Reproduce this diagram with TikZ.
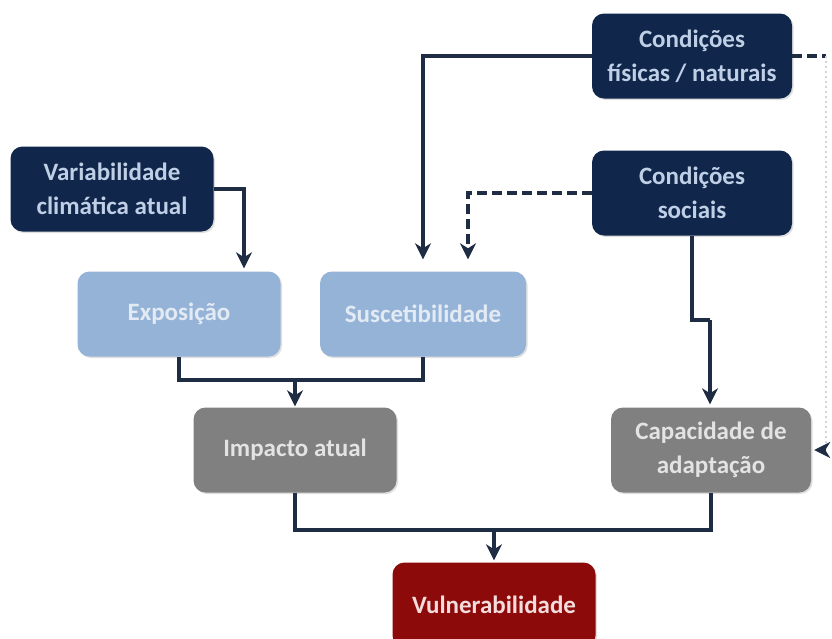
\documentclass[tikz,border=0pt]{standalone}
\usepackage{fontspec}
\setmainfont{Carlito}
\usetikzlibrary{arrows.meta,shadows}
\definecolor{navy}{HTML}{10264A}
\definecolor{navytxt}{HTML}{BFCFE6}
\definecolor{lblue}{HTML}{95B3D7}
\definecolor{lbluetxt}{HTML}{E2EAF4}
\definecolor{gbox}{HTML}{808080}
\definecolor{gtxt}{HTML}{E3E3E3}
\definecolor{rbox}{HTML}{8C0A0A}
\definecolor{rtxt}{HTML}{F4DCDC}
\definecolor{lnk}{HTML}{1F2D44}
\tikzset{
  box/.style={rounded corners=12pt, minimum width=203pt, minimum height=85pt,
    align=center, font=\fontsize{25}{34}\selectfont\bfseries,
    drop shadow={opacity=0.25, shadow xshift=1.5pt, shadow yshift=-1.5pt}},
  darkbox/.style={box, fill=navy, text=navytxt},
  bluebox/.style={box, fill=lblue, text=lbluetxt},
  greybox/.style={box, fill=gbox, text=gtxt},
  redbox/.style={box, fill=rbox, text=rtxt},
  link/.style={draw=lnk, line width=3.2pt},
  tip/.style={-{Stealth[length=16pt,width=16pt,inset=5pt]}},
  arr/.style={link, tip},
  dlink/.style={link, dash pattern=on 10pt off 5pt},
}
\begin{document}
\begin{tikzpicture}[x=1pt,y=-1pt]
\useasboundingbox (0,0) rectangle (832,638);
\fill[white] (0,0) rectangle (832,638);

\node[darkbox, minimum width=200pt] (fis) at (692,56) {Condições\\físicas / naturais};
\node[darkbox, minimum width=200pt] (soc) at (692,193) {Condições\\sociais};
\node[darkbox] (var) at (112,189) {Variabilidade\\climática atual};
\node[bluebox] (exp) at (179,314) {Exposição};
\node[bluebox, minimum width=206pt] (sus) at (423,314) {Suscetibilidade};
\node[greybox] (imp) at (295,450) {Impacto atual};
\node[greybox, minimum width=200pt] (cap) at (711,450) {Capacidade de\\adaptação};
\node[redbox] (vul) at (494,605) {Vulnerabilidade};

\coordinate (j1) at (295,380);
\coordinate (j2) at (494,530);
\coordinate (k1) at (710,320);
\coordinate (r1) at (826,56);
\coordinate (r2) at (826,450);

% Variabilidade -> Exposição
\draw[arr, shorten >=3pt] (var.east) -| ([xshift=65pt]exp.north);
% Físicas -> Suscetibilidade
\draw[arr, shorten >=12pt] (fis.west) -| (sus.north);
% Sociais -> Suscetibilidade (dashed)
\draw[dlink, tip, shorten >=12pt] (soc.west) -| ([xshift=45pt]sus.north);
% Exposição + Suscetibilidade -> Impacto
\draw[link] (exp.south) |- (j1) -| (sus.south);
\draw[arr, shorten >=1pt] (j1) -- (imp.north);
% Sociais -> Capacidade
\draw[link] (soc.south) |- (k1);
\draw[arr, shorten >=3pt] (k1) -- (cap.north -| k1);
% Impacto + Capacidade -> Vulnerabilidade
\draw[link] (imp.south) |- (j2) -| (cap.south);
\draw[arr, shorten >=2pt] (j2) -- (vul.north);
% Físicas -> Capacidade (dashed, running along the right edge)
\draw[dlink] (fis.east) -- (r1);
\draw[lnk!20, line width=1.2pt, dash pattern=on 2pt off 3pt] (r1) -- (r2);
\draw[dlink, tip, shorten >=3pt] (r2) -- (cap.east);
\end{tikzpicture}
\end{document}
